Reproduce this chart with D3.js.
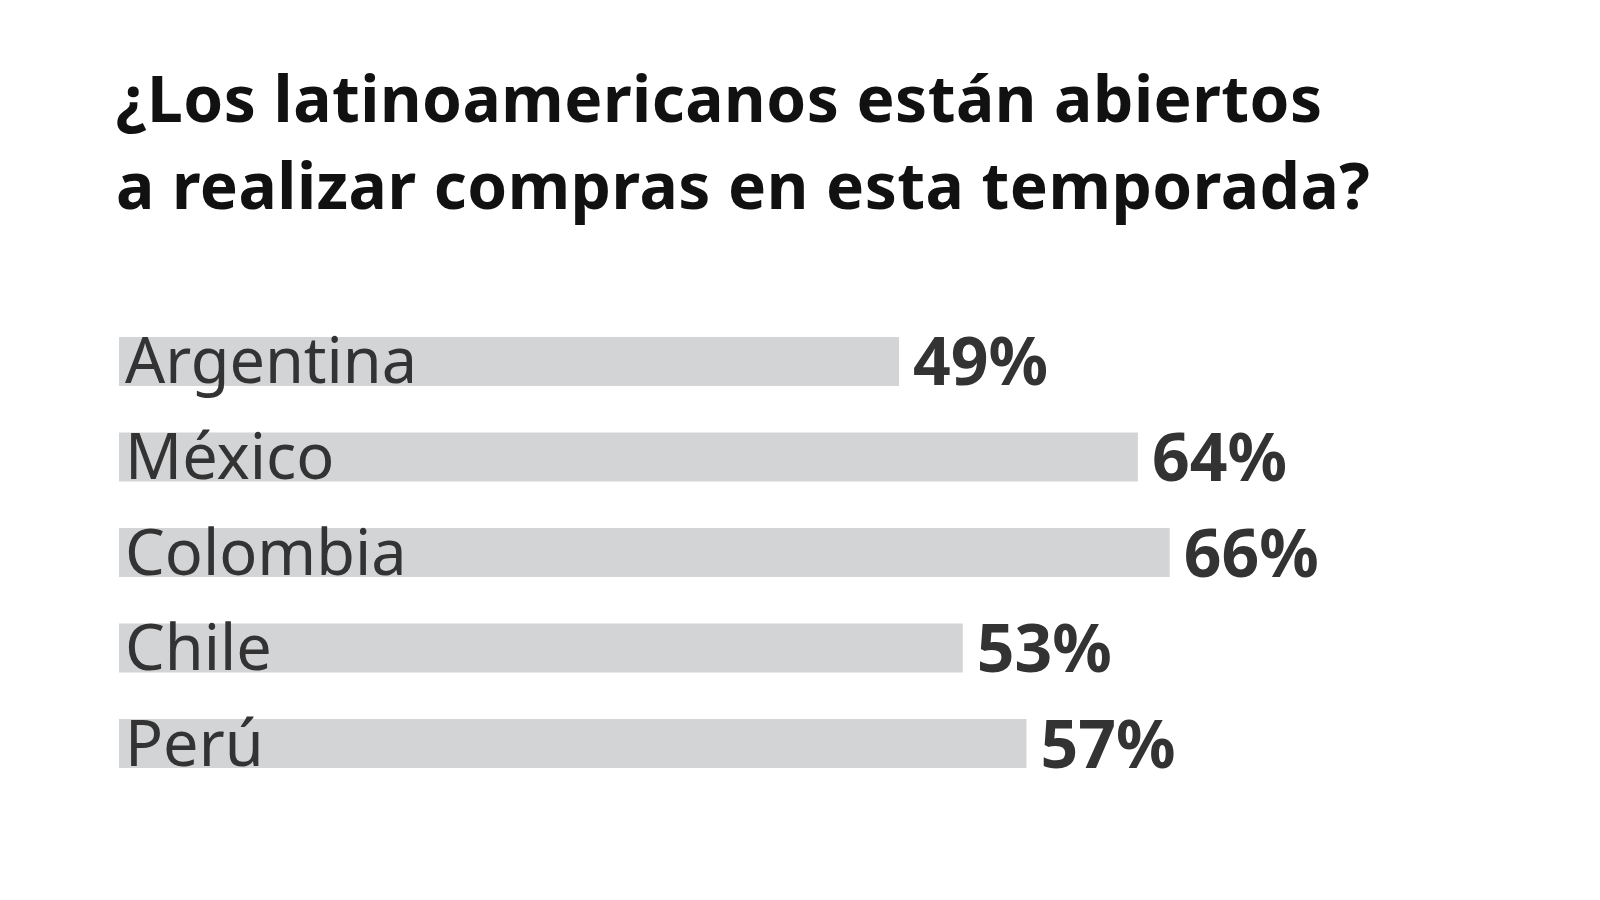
<!DOCTYPE html>
<html>
<head>
<meta charset="utf-8">
<script src="https://cdn.jsdelivr.net/npm/d3@7"></script>
<style>
  body { margin: 0; background: #fff; }
  text { font-family: "Noto Sans", Roboto, sans-serif; }
</style>
</head>
<body>
<div id="chart"></div>
<script>
const titleLines = ['¿Los latinoamericanos están abiertos', 'a realizar compras en esta temporada?'];
const countries = ['Argentina', 'México', 'Colombia', 'Chile', 'Perú'];
const values = [49, 64, 66, 53, 57];

const width = 1600, height = 900;
const svg = d3.select('#chart').append('svg')
  .attr('width', width)
  .attr('height', height);

// title
svg.append('g').selectAll('text')
  .data(titleLines)
  .enter().append('text')
    .attr('x', 116)
    .attr('y', (d, i) => 122 + i * 87)
    .attr('font-size', 64)
    .attr('font-weight', 700)
    .attr('letter-spacing', 0.5)
    .attr('fill', '#111')
    .text(d => d);

const x = d3.scaleLinear().domain([0, 100]).range([119, 119 + 1592]);
const y = d3.scaleBand().domain(countries).range([337, 768]).paddingInner(0.487).paddingOuter(0);

const rows = svg.append('g').selectAll('g')
  .data(countries.map((c, i) => ({ country: c, value: values[i] })))
  .enter().append('g');

rows.append('rect')
  .attr('x', x(0))
  .attr('y', d => y(d.country))
  .attr('width', d => x(d.value) - x(0))
  .attr('height', y.bandwidth())
  .attr('fill', '#d3d4d6');

rows.append('text')
  .attr('x', x(0) + 6)
  .attr('y', d => y(d.country) + y.bandwidth() / 2 + 22)
  .attr('font-size', 63)
  .attr('fill', '#333')
  .text(d => d.country);

rows.append('text')
  .attr('x', d => x(d.value) + 14)
  .attr('y', d => y(d.country) + y.bandwidth() / 2 + 24)
  .attr('font-size', 66)
  .attr('font-weight', 700)
  .attr('fill', '#333')
  .text(d => d.value + '%');
</script>
</body>
</html>
